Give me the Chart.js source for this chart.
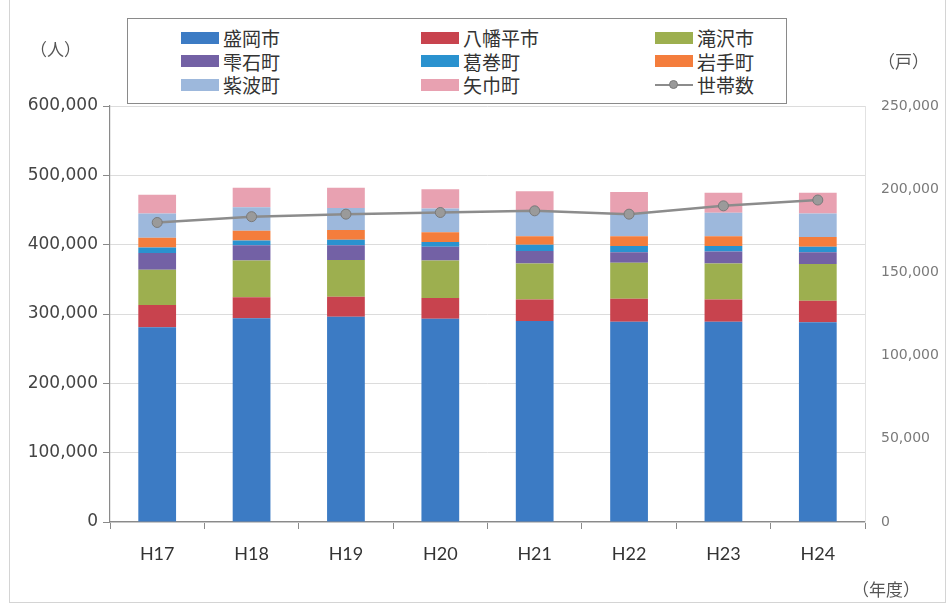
<!DOCTYPE html>
<html lang="ja">
<head>
<meta charset="utf-8">
<title>人口・世帯数の推移</title>
<script src="https://cdn.jsdelivr.net/npm/chart.js@4.4.1/dist/chart.umd.min.js"></script>
<style>
  html, body { margin: 0; padding: 0; background: #fff; }
  #wrap { position: relative; width: 950px; height: 608px; overflow: hidden; }
  #frame { position: absolute; left: 9px; top: -2px; width: 937px; height: 605px;
           border: 1px solid #d4d4d4; box-sizing: border-box; pointer-events: none; }
  #legend { position: absolute; left: 127px; top: 18px; width: 660px; height: 86px;
            border: 1.5px solid #8a8a8a; box-sizing: border-box; background: #fff;
            display: grid; grid-template-columns: 240px 234px auto; grid-auto-rows: 23.5px;
            padding: 7px 0 0 53px; font-family: "Noto Sans CJK JP", sans-serif;
            font-size: 19px; color: #333; }
  .item { display: flex; align-items: center; white-space: nowrap; }
  .sw { width: 38px; height: 12px; margin-right: 4px; flex: none; }
  .ln { width: 38px; height: 12px; margin-right: 4px; flex: none; position: relative; }
  .ln::before { content: ""; position: absolute; left: 0; right: 0; top: 5px; height: 2.5px; background: #8c8c8c; }
  .ln::after { content: ""; position: absolute; left: 14px; top: 1px; width: 9px; height: 9px;
               border-radius: 50%; background: #9a9a9a; border: 1px solid #7a7a7a; box-sizing: border-box; }
</style>
</head>
<body>
<div id="wrap">
  <canvas id="chart" width="950" height="608"></canvas>
  <div id="legend"></div>
  <div id="frame"></div>
</div>
<script>
  // 年度
  const LABELS = ['H17', 'H18', 'H19', 'H20', 'H21', 'H22', 'H23', 'H24'];

  // 人口（人）— 市町別
  const MORIOKA     = [281000, 294000, 296000, 293000, 290000, 289000, 289000, 288000];
  const HACHIMANTAI = [32000, 30000, 29000, 30000, 31000, 33000, 32000, 31000];
  const TAKIZAWA    = [51000, 53000, 53000, 54000, 52000, 52000, 52000, 53000];
  const SHIZUKUISHI = [24000, 22000, 21000, 20000, 18000, 15000, 17000, 17000];
  const KUZUMAKI    = [8000, 7000, 8000, 7000, 9000, 9000, 8000, 8000];
  const IWATE       = [14000, 14000, 14000, 14000, 12000, 14000, 14000, 14000];
  const SHIWA       = [35000, 34000, 32000, 34000, 36000, 33000, 34000, 34000];
  const YAHABA      = [27000, 28000, 29000, 28000, 29000, 31000, 29000, 30000];

  // 世帯数（戸）
  const HOUSEHOLDS  = [180000, 183500, 185000, 186000, 187000, 185000, 190000, 193500];

  // 目盛
  const LEFT_TICKS  = [0, 100000, 200000, 300000, 400000, 500000, 600000];
  const RIGHT_TICKS = [0, 50000, 100000, 150000, 200000, 250000];

  const COLORS = {
    morioka: '#3c7bc4',
    hachimantai: '#c8434e',
    takizawa: '#9daf4f',
    shizukuishi: '#7361a5',
    kuzumaki: '#2a92cf',
    iwate: '#f47d3c',
    shiwa: '#9db8dc',
    yahaba: '#e8a1b1',
    line: '#8c8c8c'
  };

  const numFont = { family: "'DejaVu Sans', sans-serif", size: 17 };
  const fmt = v => v.toLocaleString('en-US');

  function bar(label, data, color) {
    return { type: 'bar', label, data, backgroundColor: color, borderWidth: 0,
             yAxisID: 'y', order: 1, barPercentage: 0.4, categoryPercentage: 1 };
  }

  const datasets = [
    bar('盛岡市', MORIOKA, COLORS.morioka),
    bar('八幡平市', HACHIMANTAI, COLORS.hachimantai),
    bar('滝沢市', TAKIZAWA, COLORS.takizawa),
    bar('雫石町', SHIZUKUISHI, COLORS.shizukuishi),
    bar('葛巻町', KUZUMAKI, COLORS.kuzumaki),
    bar('岩手町', IWATE, COLORS.iwate),
    bar('紫波町', SHIWA, COLORS.shiwa),
    bar('矢巾町', YAHABA, COLORS.yahaba),
    {
      type: 'line', label: '世帯数', data: HOUSEHOLDS, yAxisID: 'y2', order: 0,
      borderColor: COLORS.line, borderWidth: 2.5, tension: 0,
      pointRadius: 5, pointBackgroundColor: '#9a9a9a', pointBorderColor: '#7a7a7a', pointBorderWidth: 1
    }
  ];

  // 軸の注記（人）（戸）（年度）
  const unitLabels = {
    id: 'unitLabels',
    afterDraw(chart) {
      const ctx = chart.ctx;
      ctx.save();
      ctx.font = "17px 'Noto Sans CJK JP', sans-serif";
      ctx.fillStyle = '#555';
      ctx.textBaseline = 'middle';
      ctx.textAlign = 'left';
      ctx.fillText('（人）', 30, 50);
      ctx.fillText('（戸）', 878, 62);
      ctx.fillText('（年度）', 852, 590);
      ctx.restore();
    }
  };

  new Chart(document.getElementById('chart').getContext('2d'), {
    data: { labels: LABELS, datasets },
    plugins: [unitLabels],
    options: {
      responsive: false,
      animation: false,
      layout: { padding: { top: 106, left: 0, right: 0, bottom: 0 } },
      plugins: { legend: { display: false }, tooltip: { enabled: false } },
      scales: {
        x: {
          stacked: true,
          offset: true,
          afterFit: s => { s.height = 86; },
          ticks: { font: { family: "Lato, sans-serif", size: 18 }, color: '#333', padding: 14 },
          grid: { offset: true, drawOnChartArea: false, tickLength: 7, tickColor: '#8a8a8a' },
          border: { color: '#8a8a8a', width: 1.2 }
        },
        y: {
          stacked: true,
          position: 'left',
          min: 0, max: 600000,
          afterFit: s => { s.width = 110; },
          afterBuildTicks: s => { s.ticks = LEFT_TICKS.map(v => ({ value: v })); },
          ticks: { font: numFont, color: '#444', padding: 5, callback: v => fmt(v) },
          grid: { color: '#dcdcdc', tickLength: 7, tickColor: '#8a8a8a' },
          border: { color: '#8a8a8a', width: 1.2 }
        },
        y2: {
          position: 'right',
          min: 0, max: 250000,
          afterFit: s => { s.width = 85; },
          afterBuildTicks: s => { s.ticks = RIGHT_TICKS.map(v => ({ value: v })); },
          ticks: { font: { family: "'DejaVu Sans', sans-serif", size: 14 }, color: '#7a7a7a', padding: 16,
                   callback: v => fmt(v) },
          grid: { drawOnChartArea: false, drawTicks: false },
          border: { color: '#e2e2e2' }
        }
      }
    }
  });

  // 凡例（3列）
  const legend = document.getElementById('legend');
  datasets.forEach(ds => {
    const item = document.createElement('div');
    item.className = 'item';
    const mark = document.createElement('span');
    if (ds.type === 'line') {
      mark.className = 'ln';
    } else {
      mark.className = 'sw';
      mark.style.background = ds.backgroundColor;
    }
    item.appendChild(mark);
    item.appendChild(document.createTextNode(ds.label));
    legend.appendChild(item);
  });
</script>
</body>
</html>
